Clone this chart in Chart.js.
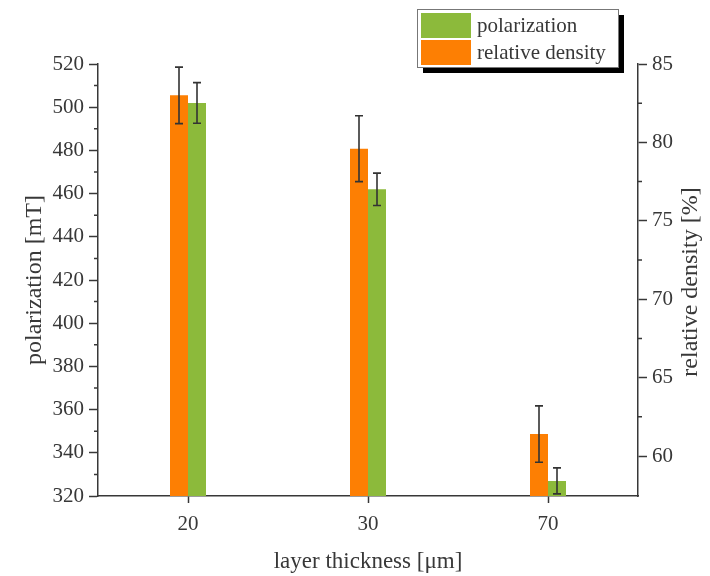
<!DOCTYPE html>
<html>
<head>
<meta charset="utf-8">
<script src="https://cdn.jsdelivr.net/npm/chart.js@4"></script>
<style>
  html, body { margin: 0; padding: 0; background: #fff; }
  #wrap { width: 710px; height: 576px; }
</style>
</head>
<body>
<div id="wrap"><canvas id="chart" width="710" height="576"></canvas></div>
<script>
const thickness = ['20', '30', '70'];
const polarization = [502, 462, 327];
const polarizationErr = [9.4, 7.5, 6];
const density = [83.0, 79.6, 61.4];
const densityErr = [1.8, 2.1, 1.8];
const leftTicks = [320, 340, 360, 380, 400, 420, 440, 460, 480, 500, 520];
const leftMinor = [330, 350, 370, 390, 410, 430, 450, 470, 490, 510];
const rightTicks = [60, 65, 70, 75, 80, 85];
const rightMinor = [62.5, 67.5, 72.5, 77.5, 82.5];

const FONT = "'Liberation Serif', 'Times New Roman', serif";
const INK = '#383838';
const ORANGE = '#fd7f03';
const GREEN = '#8cba3b';

const errorBars = {
  id: 'errorBars',
  afterDatasetsDraw(chart) {
    const c = chart.ctx;
    c.save();
    c.strokeStyle = '#333';
    c.lineWidth = 1.6;
    chart.data.datasets.forEach((ds, di) => {
      const meta = chart.getDatasetMeta(di);
      const scale = chart.scales[ds.yAxisID];
      meta.data.forEach((bar, i) => {
        const v = ds.data[i], e = ds.errors[i];
        const y1 = scale.getPixelForValue(v + e);
        const y2 = scale.getPixelForValue(v - e);
        c.beginPath();
        c.moveTo(bar.x, y1); c.lineTo(bar.x, y2);
        c.moveTo(bar.x - 4, y1); c.lineTo(bar.x + 4, y1);
        c.moveTo(bar.x - 4, y2); c.lineTo(bar.x + 4, y2);
        c.stroke();
      });
    });
    c.restore();
  }
};

const extras = {
  id: 'extras',
  afterDraw(chart) {
    const c = chart.ctx;
    const { left, right } = chart.chartArea;
    c.save();
    // minor ticks
    c.strokeStyle = INK;
    c.lineWidth = 1.5;
    c.beginPath();
    leftMinor.forEach(v => {
      const y = chart.scales.y.getPixelForValue(v);
      c.moveTo(left - 4, y); c.lineTo(left, y);
    });
    rightMinor.forEach(v => {
      const y = chart.scales.y1.getPixelForValue(v);
      c.moveTo(right, y); c.lineTo(right + 4, y);
    });
    c.stroke();

    // right axis title, reading bottom to top
    c.fillStyle = INK;
    c.font = '24px ' + FONT;
    c.textAlign = 'center';
    c.textBaseline = 'middle';
    c.translate(691, 282);
    c.rotate(-Math.PI / 2);
    c.fillText('relative density [%]', 0, 0);
    c.setTransform(1, 0, 0, 1, 0, 0);

    // legend box with shadow
    const bx = 417, by = 9, bw = 201, bh = 58;
    c.fillStyle = '#000';
    c.fillRect(bx + 6, by + 6, bw, bh);
    c.fillStyle = '#fff';
    c.fillRect(bx, by, bw, bh);
    c.strokeStyle = '#777';
    c.lineWidth = 1;
    c.strokeRect(bx + 0.5, by + 0.5, bw, bh);
    const items = [chart.data.datasets[1], chart.data.datasets[0]];
    c.font = '21px ' + FONT;
    c.textAlign = 'left';
    c.textBaseline = 'alphabetic';
    items.forEach((ds, i) => {
      c.fillStyle = ds.backgroundColor;
      c.fillRect(421, 13 + i * 27, 50, 25);
      c.fillStyle = INK;
      c.fillText(ds.label, 477, 32 + i * 27);
    });
    c.restore();
  }
};

new Chart(document.getElementById('chart'), {
  type: 'bar',
  data: {
    labels: thickness,
    datasets: [
      { label: 'relative density', data: density, errors: densityErr, yAxisID: 'y1', backgroundColor: ORANGE },
      { label: 'polarization', data: polarization, errors: polarizationErr, yAxisID: 'y', backgroundColor: GREEN }
    ]
  },
  options: {
    responsive: false,
    animation: false,
    events: [],
    layout: { padding: { top: 64, left: 0, right: 0, bottom: 0 } },
    datasets: { bar: { barPercentage: 1, categoryPercentage: 0.2 } },
    plugins: { legend: { display: false }, tooltip: { enabled: false } },
    scales: {
      x: {
        grid: { offset: false, drawOnChartArea: false, tickLength: 7, tickColor: INK, tickWidth: 1.5 },
        border: { color: INK, width: 1.5 },
        ticks: { color: INK, font: { family: FONT, size: 21 }, padding: 9, maxRotation: 0 },
        title: { display: true, text: 'layer thickness [\u03bcm]', color: INK, font: { family: FONT, size: 23 }, padding: { top: 12, bottom: 0 } },
        afterFit: s => { s.height = 80; }
      },
      y: {
        position: 'left',
        min: 320, max: 520,
        afterBuildTicks: s => { s.ticks = leftTicks.map(v => ({ value: v })); },
        grid: { drawOnChartArea: false, tickLength: 9, tickColor: INK, tickWidth: 1.5 },
        border: { color: INK, width: 1.5 },
        ticks: { color: INK, font: { family: FONT, size: 21 }, padding: 5 },
        title: { display: true, text: 'polarization [mT]', color: INK, font: { family: FONT, size: 24 }, padding: { top: 20, bottom: 0 } },
        afterFit: s => { s.width = 98; }
      },
      y1: {
        position: 'right',
        min: 57.45, max: 85,
        afterBuildTicks: s => { s.ticks = rightTicks.map(v => ({ value: v })); },
        grid: { drawOnChartArea: false, tickLength: 9, tickColor: INK, tickWidth: 1.5 },
        border: { color: INK, width: 1.5 },
        ticks: { color: INK, font: { family: FONT, size: 21 }, padding: 5 },
        afterFit: s => { s.width = 72; }
      }
    }
  },
  plugins: [errorBars, extras]
});
</script>
</body>
</html>
